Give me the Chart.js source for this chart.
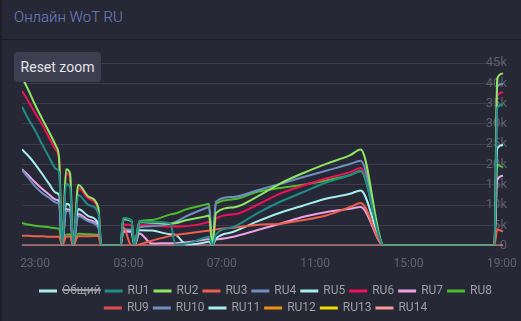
<!DOCTYPE html>
<html lang="ru">
<head>
<meta charset="UTF-8">
<title>Онлайн WoT RU</title>
<script src="https://cdn.jsdelivr.net/npm/chart.js@4"></script>
<style>
    body { margin: 0; background: #262835; font-family: Roboto, sans-serif; }
    .card { position: relative; width: 521px; height: 321px; overflow: hidden; }
    .card::before { content: ""; position: absolute; left: 0; top: 0; bottom: 0; width: 2px; background: #1d1e28; }
    .card-header { height: 39px; border-bottom: 1px solid #1b1c25; }
    .card-title { position: absolute; left: 14px; top: 8px; color: #7080c6; font-size: 15px; font-weight: 300; }
    .chart-box { position: absolute; left: 0; top: 40px; width: 521px; height: 281px; }
    #resetZoom {
        position: absolute; left: 14px; top: 52px; width: 87px; height: 30px;
        background: #3d3e50; color: #e4e4e8; border: none; border-radius: 4px;
        font: 14px Roboto, sans-serif; padding: 0;
    }
</style>
</head>
<body>
<div class="card">
    <div class="card-header"><span class="card-title">Онлайн WoT RU</span></div>
    <div class="chart-box"><canvas id="online"></canvas></div>
    <button id="resetZoom">Reset zoom</button>
</div>
<script>
// время: часы от 23:00
const times = [-0.56, -0.3, 0, 0.3, 0.6, 0.9, 1.03, 1.16, 1.33, 1.5, 1.63, 1.85, 2.3, 2.71, 2.84,
    3.66, 3.78, 4.13, 4.26, 4.47, 5.0, 5.8, 6.0, 6.5, 7.3, 7.45, 7.6, 7.75, 8.5, 9.5, 10.5, 11.5,
    12.5, 13.5, 13.95, 14.95, 19.68, 19.8, 20.05];

const tickHours = [0, 4, 8, 12, 16, 20];
const tickLabels = ['23:00', '03:00', '07:00', '11:00', '15:00', '19:00'];

const ru1 = [34200, 31300, 28400, 25000, 21800, 18900, 18000, 0, 15200, 14400, 0, 12500, 10000, 8000, 0,
    0, 6800, 6000, 0, 5900, 5800, 5500, 300, 500, 2000, 2200, 0, 2700, 4600, 7900, 10800, 13200,
    15600, 17400, 18500, 0, 0, 34000, 34700];
const ru2 = [41500, 38500, 34700, 31300, 28000, 24500, 21500, 0, 18800, 17800, 0, 15000, 12000, 9300, 0,
    0, 6500, 6000, 0, 5800, 5600, 5400, 5500, 6300, 7200, 7400, 0, 8000, 9400, 12000, 15300, 17900,
    20200, 22300, 23700, 0, 0, 41200, 42400];
const ru3 = [2400, 2400, 2300, 2300, 2200, 2200, 2200, 0, 2200, 2300, 0, 2300, 2300, 2400, 0,
    0, 4500, 0, 0, 300, 1200, 2400, 2600, 3000, 3600, 3700, 3800, 4000, 4400, 5100, 5400, 6300,
    7500, 9500, 10500, 0, 0, 3900, 3500];
const ru4 = [18600, 16800, 14600, 13000, 11800, 10600, 10200, 0, 8600, 8200, 0, 7300, 5900, 4400, 0,
    0, 4000, 3900, 0, 4500, 4800, 5400, 5800, 7300, 9200, 9500, 0, 10800, 12000, 13600, 15200, 16900,
    18500, 20100, 20900, 0, 0, 39200, 39800];
const ru5 = [23700, 22200, 20100, 17700, 15200, 13000, 12500, 0, 10300, 9800, 0, 9000, 7200, 5400, 0,
    0, 3900, 3700, 0, 3800, 3700, 2800, 2700, 200, 800, 1000, 0, 1700, 3400, 5900, 8100, 9900,
    11600, 12800, 13600, 0, 0, 23900, 24800];
const ru6 = [38100, 35700, 32700, 29900, 26600, 23500, 21000, 0, 17800, 16800, 0, 14200, 11500, 8800, 0,
    0, 5200, 5000, 0, 5000, 5000, 4700, 4700, 4800, 5600, 5900, 0, 6600, 7700, 10000, 12800, 14800,
    16600, 18100, 19100, 0, 0, 36800, 37800];
const ru7 = [18800, 17400, 15600, 14000, 12600, 11300, 10900, 0, 9000, 8600, 0, 7800, 6300, 4900, 0,
    0, 3500, 3400, 0, 3000, 500, 600, 600, 800, 1500, 1600, 1400, 1500, 2200, 3800, 5400, 7100,
    8300, 9100, 9500, 0, 0, 16200, 17200];
const ru8 = [5600, 5200, 4900, 4700, 4500, 4300, 4200, 0, 2700, 2800, 0, 2900, 2800, 2700, 0,
    0, 6800, 6200, 0, 6000, 6300, 7700, 7900, 9000, 10100, 10300, 0, 10300, 11400, 13200, 14200, 15000,
    16100, 17400, 18300, 0, 0, 19900, 19200];
const ru14 = [0, 0, 0, 0, 0, 0, 0, 0, 0, 0, 0, 0, 0, 0, 0,
    0, 0, 0, 0, 0, 0, 0, 0, 0, 0, 0, 0, 0, 0, 0, 0, 0,
    0, 0, 0, 0, 0, 0, 0];

const seriesNames = ['Общий', 'RU1', 'RU2', 'RU3', 'RU4', 'RU5', 'RU6', 'RU7', 'RU8',
    'RU9', 'RU10', 'RU11', 'RU12', 'RU13', 'RU14'];
const seriesValues = [[], ru1, ru2, ru3, ru4, ru5, ru6, ru7, ru8, [], [], [], [], [], ru14];
const seriesColors = ['#a6eeee', '#1f8c8a', '#8fe662', '#ee5f4c', '#6f8fc2', '#a6eeee', '#f2105a', '#eea2e6',
    '#4dbb2c', '#e04c4c', '#6f8fc2', '#a6eeee', '#f0900e', '#eede00', '#f89a9a'];

Chart.defaults.font.family = 'Roboto, sans-serif';

const datasets = seriesNames.map((name, i) => ({
    label: name,
    data: seriesValues[i].map((v, j) => ({ x: times[j], y: v })),
    borderColor: seriesColors[i],
    backgroundColor: seriesColors[i],
    borderWidth: 2,
    pointRadius: 0,
    cubicInterpolationMode: 'monotone',
    hidden: i === 0
}));

new Chart(document.getElementById('online'), {
    type: 'line',
    data: { datasets: datasets },
    options: {
        responsive: true,
        maintainAspectRatio: false,
        animation: false,
        layout: { padding: { left: 22, right: 11, top: 23, bottom: -3 } },
        scales: {
            x: {
                type: 'linear',
                min: -0.56,
                max: 20.09,
                grid: { display: false },
                border: { display: false },
                afterFit: (scale) => { scale.height += 6; },
                afterBuildTicks: (scale) => { scale.ticks = tickHours.map(v => ({ value: v })); },
                ticks: {
                    color: '#62646f',
                    font: { size: 12 },
                    maxRotation: 0,
                    callback: (v) => tickLabels[tickHours.indexOf(v)]
                }
            },
            y: {
                position: 'right',
                min: 0,
                max: 45000,
                grid: { color: 'rgba(255,255,255,0.1)', drawTicks: false },
                border: { display: false },
                ticks: {
                    mirror: true,
                    padding: 3,
                    stepSize: 5000,
                    color: '#5e606b',
                    font: { size: 13 },
                    callback: (v) => v === 0 ? '0' : (v / 1000) + 'k'
                }
            }
        },
        plugins: {
            legend: {
                position: 'bottom',
                labels: { color: '#9d9ea6', boxWidth: 16, boxHeight: 1, padding: 5, font: { size: 12 } }
            },
            tooltip: { enabled: false }
        }
    }
});
</script>
</body>
</html>
